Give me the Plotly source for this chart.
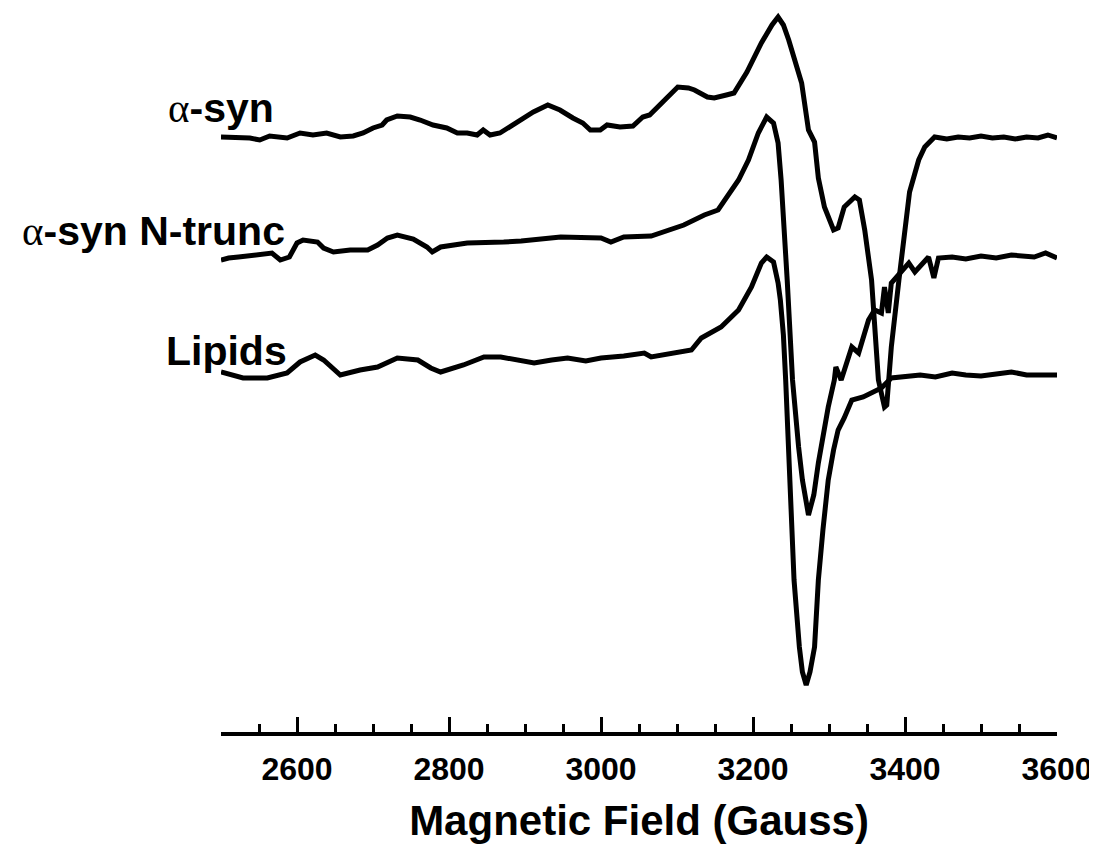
import plotly.graph_objects as go

# Magnetic field (Gauss) and signal (arbitrary units, stacked)
field_asyn = [2500, 2512, 2525, 2538, 2551, 2564, 2587, 2604, 2621, 2639, 2657, 2674, 2687, 2700,
              2712, 2718, 2732, 2749, 2762, 2779, 2797, 2811, 2824, 2837, 2845, 2854, 2867, 2880,
              2893, 2911, 2930, 2946, 2963, 2976, 2986, 2999, 3008, 3025, 3042, 3055, 3064, 3085,
              3101, 3115, 3123, 3140, 3149, 3165, 3175, 3192, 3211, 3225, 3233, 3240, 3247, 3264,
              3273, 3281, 3286, 3294, 3306, 3312, 3320, 3334, 3340, 3347, 3356, 3365, 3373, 3376,
              3382, 3392, 3400, 3406, 3418, 3426, 3439, 3455, 3470, 3485, 3500, 3515, 3530, 3545,
              3560, 3575, 3588, 3600]
signal_asyn = [595, 595, 594, 594, 592, 596, 594, 599, 597, 599, 595, 596, 599, 604,
               607, 612, 616, 615, 612, 607, 604, 599, 599, 597, 602, 597, 599, 605,
               612, 620, 627, 622, 614, 609, 602, 602, 607, 605, 606, 615, 617, 632,
               645, 644, 642, 635, 634, 637, 639, 660, 689, 707, 715, 707, 692, 649,
               602, 590, 554, 525, 502, 504, 525, 535, 532, 502, 452, 352, 325, 327,
               385, 452, 509, 540, 572, 585, 595, 593, 595, 594, 596, 594, 595, 593,
               595, 594, 597, 594]

field_ntrunc = [2500, 2510, 2523, 2545, 2567, 2578, 2590, 2600, 2608, 2627, 2635, 2648, 2670, 2693,
                2706, 2719, 2732, 2753, 2771, 2778, 2789, 2824, 2846, 2872, 2895, 2912, 2947, 3000,
                3013, 3030, 3066, 3109, 3136, 3154, 3171, 3181, 3194, 3207, 3218, 3227, 3233, 3237,
                3245, 3252, 3260, 3265, 3273, 3280, 3286, 3299, 3307, 3309, 3316, 3330, 3339, 3352,
                3360, 3369, 3373, 3378, 3382, 3396, 3405, 3413, 3431, 3438, 3444, 3462, 3480, 3500,
                3520, 3540, 3560, 3570, 3585, 3600]
signal_ntrunc = [472, 474, 475, 477, 479, 472, 475, 489, 492, 490, 484, 480, 482, 482,
                 487, 494, 497, 493, 485, 480, 485, 489, 489, 490, 491, 492, 495, 494,
                 490, 495, 496, 507, 517, 522, 542, 552, 572, 599, 615, 609, 589, 552,
                 452, 352, 285, 252, 217, 237, 269, 325, 352, 365, 352, 385, 379, 412,
                 422, 419, 445, 419, 449, 462, 469, 460, 475, 454, 474, 475, 473, 476,
                 474, 477, 475, 475, 479, 474]

field_lipids = [2500, 2529, 2561, 2587, 2604, 2624, 2635, 2657, 2683, 2706, 2732, 2759, 2776, 2789,
                2819, 2846, 2868, 2890, 2912, 2935, 2956, 2980, 3000, 3030, 3057, 3066, 3090, 3119,
                3132, 3158, 3181, 3198, 3211, 3218, 3227, 3233, 3236, 3240, 3243, 3246, 3248, 3254,
                3261, 3265, 3270, 3275, 3281, 3286, 3292, 3299, 3306, 3312, 3320, 3330, 3345, 3356,
                3369, 3382, 3400, 3420, 3440, 3462, 3480, 3500, 3520, 3540, 3560, 3580, 3600]
signal_lipids = [360, 354, 354, 359, 370, 377, 372, 357, 362, 365, 374, 372, 364, 360,
                 367, 375, 375, 372, 369, 372, 374, 371, 374, 376, 379, 375, 378, 382,
                 394, 405, 422, 445, 469, 475, 470, 449, 432, 397, 352, 302, 252, 152,
                 85, 60, 47, 60, 85, 152, 202, 252, 282, 302, 314, 332, 335, 339,
                 344, 354, 356, 357, 355, 359, 357, 356, 358, 360, 357, 357, 357]

trace_names = ["α-syn", "α-syn N-trunc", "Lipids"]
label_x = [2572, 2587, 2589]
label_y = [624, 501, 381]

x_range = [2500, 3600]
y_range = [0, 724]
major_tick0 = 2600
major_dtick = 200
minor_dtick = 50

FONT = "Arial, Liberation Sans, Helvetica, sans-serif"

fig = go.Figure()
for fx, sy, nm in [(field_asyn, signal_asyn, trace_names[0]),
                   (field_ntrunc, signal_ntrunc, trace_names[1]),
                   (field_lipids, signal_lipids, trace_names[2])]:
    fig.add_trace(go.Scatter(x=fx, y=sy, mode="lines", name=nm,
                             line=dict(color="black", width=5),
                             cliponaxis=False, showlegend=False))

def label_html(name):
    if name.startswith("α"):
        return ('<span style="font-family:Liberation Serif, DejaVu Serif, serif;font-weight:normal">α</span>'
                '<b>' + name[1:] + '</b>')
    return '<b>' + name + '</b>'

for nm, lx, ly in zip(trace_names, label_x, label_y):
    fig.add_annotation(x=lx, y=ly, xref="x", yref="y", text=label_html(nm),
                       showarrow=False, xanchor="right", yanchor="middle",
                       font=dict(family=FONT, size=41, color="black"))

fig.update_layout(
    width=1089, height=836,
    margin=dict(l=213, r=40, t=0, b=112, autoexpand=False),
    plot_bgcolor="white", paper_bgcolor="white",
    font=dict(family=FONT, color="black"),
    xaxis=dict(
        range=x_range, showgrid=False, zeroline=False, automargin=False,
        showline=True, linewidth=4, linecolor="black",
        ticks="inside", ticklen=15, tickwidth=3, tickcolor="black",
        tick0=major_tick0, dtick=major_dtick,
        tickfont=dict(family=FONT, size=32, color="black", weight="bold"),
        ticklabelstandoff=6,
        minor=dict(dtick=minor_dtick, tick0=2500, ticks="inside", ticklen=8,
                   tickwidth=3, tickcolor="black"),
        title=dict(text="<b>Magnetic Field (Gauss)</b>",
                   font=dict(family=FONT, size=42, color="black"), standoff=24),
    ),
    yaxis=dict(visible=False, range=y_range),
)

fig.write_html("out.html")
